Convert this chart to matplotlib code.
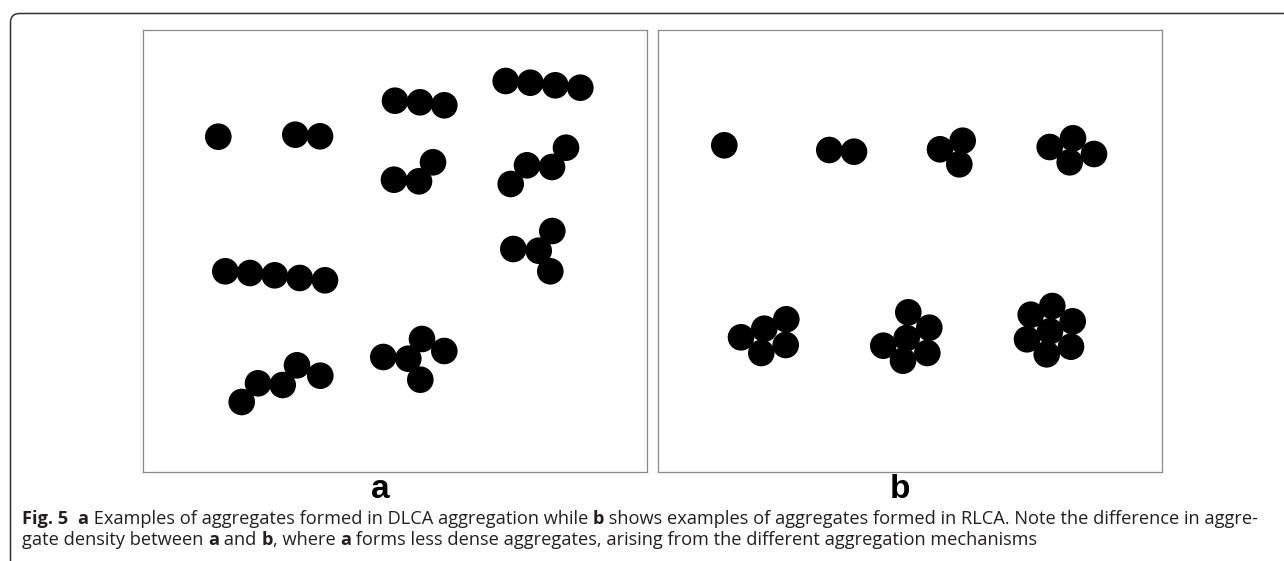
"""Fig. 5: DLCA vs RLCA aggregate examples."""
import matplotlib
matplotlib.use("Agg")
import matplotlib.pyplot as plt
from matplotlib.patches import Circle, FancyBboxPatch
from matplotlib.font_manager import FontProperties

# particle centres (figure pixel coordinates), one list per aggregate
dlca_aggregates = [
    [(218.3, 136.7)],
    [(295.3, 134.7), (320.0, 136.3)],
    [(395.0, 100.7), (420.0, 102.3), (444.3, 105.3)],
    [(505.7, 81.0), (530.3, 82.7), (555.3, 85.3), (580.3, 87.7)],
    [(394.0, 179.7), (419.0, 181.3), (433.0, 162.3)],
    [(510.7, 184.0), (527.0, 165.3), (552.0, 167.0), (566.0, 147.7)],
    [(513.3, 249.0), (538.7, 250.7), (552.3, 231.0), (550.3, 271.3)],
    [(225.3, 271.3), (250.0, 273.0), (274.7, 275.3), (299.7, 278.0), (325.0, 280.3)],
    [(241.7, 402.0), (258.0, 383.3), (282.7, 385.0), (297.0, 365.3), (320.3, 375.7)],
    [(383.3, 357.0), (408.3, 358.7), (422.0, 339.0), (444.3, 351.0), (420.3, 379.7)],
]

rlca_aggregates = [
    [(724.3, 145.3)],
    [(829.3, 150.0), (854.0, 151.7)],
    [(940.0, 149.3), (962.7, 140.7), (959.3, 164.3)],
    [(1049.7, 147.0), (1073.0, 138.3), (1094.0, 154.0), (1069.7, 162.3)],
    [(741.0, 337.3), (764.3, 328.7), (786.3, 319.3), (761.3, 353.0), (785.7, 345.0)],
    [(908.3, 312.3), (929.3, 327.7), (906.7, 338.0), (883.3, 345.7),
     (903.0, 360.7), (927.3, 353.0)],
    [(1052.3, 306.0), (1030.7, 314.7), (1072.7, 321.3), (1050.0, 331.3),
     (1027.0, 339.3), (1071.0, 346.7), (1046.7, 354.3)],
]

panel_labels = ["a", "b"]

caption_line1 = [
    ("Fig. 5", "bold"), ("  ", "normal"), ("a", "bold"),
    (" Examples of aggregates formed in DLCA aggregation while ", "normal"),
    ("b", "bold"),
    (" shows examples of aggregates formed in RLCA. Note the difference in aggre-", "normal"),
]
caption_line2 = [
    ("gate density between ", "normal"), ("a", "bold"), (" and ", "normal"),
    ("b", "bold"), (", where ", "normal"), ("a", "bold"),
    (" forms less dense aggregates, arising from the different aggregation mechanisms",
     "normal"),
]

W, H = 1284, 561
R = 13.3

fig = plt.figure(figsize=(W / 100, H / 100), dpi=100)
bg = fig.add_axes([0, 0, 1, 1])
bg.set_xlim(0, W)
bg.set_ylim(H, 0)
bg.axis("off")

# outer caption frame: only top and left edges are visible
bg.add_patch(FancyBboxPatch((10.5, 13.5), 1400, 700,
                            boxstyle="round,pad=0,rounding_size=9",
                            fill=False, edgecolor="#333333", linewidth=1.1))


def make_panel(x0, x1, y0, y1, aggregates):
    ax = fig.add_axes([x0 / W, 1 - y1 / H, (x1 - x0) / W, (y1 - y0) / H])
    ax.set_xlim(x0, x1)
    ax.set_ylim(y1, y0)
    ax.set_xticks([])
    ax.set_yticks([])
    for sp in ax.spines.values():
        sp.set_color("#8a8a8a")
        sp.set_linewidth(0.9)
    for agg in aggregates:
        for (cx, cy) in agg:
            ax.add_patch(Circle((cx, cy), R, facecolor="black", edgecolor="none"))
    return ax


make_panel(143, 647, 30, 472, dlca_aggregates)
make_panel(658, 1162, 30, 472, rlca_aggregates)

lab_font = FontProperties(family="Liberation Sans", weight="bold", size=24)
for lab, xc in zip(panel_labels, [380, 900]):
    bg.text(xc, 498, lab, fontproperties=lab_font, ha="center", va="baseline",
            color="black")

fig.canvas.draw()
renderer = fig.canvas.get_renderer()


def text_width(s, prop):
    w1, _, _ = renderer.get_text_width_height_descent(s + "|", prop, ismath=False)
    w2, _, _ = renderer.get_text_width_height_descent("|", prop, ismath=False)
    return w1 - w2


def line_width(parts, size):
    total = 0
    for s, wt in parts:
        total += text_width(s, FontProperties(family="Open Sans", weight=wt, size=size))
    return total


# fit the first caption line to the width seen in the figure
base = 10.0
size = base * 1243 / line_width(caption_line1, base)


def draw_line(parts, x, y):
    for s, wt in parts:
        prop = FontProperties(family="Open Sans", weight=wt, size=size)
        bg.text(x, y, s, fontproperties=prop, ha="left", va="baseline",
                color="#231f20")
        x += text_width(s, prop)


draw_line(caption_line1, 22, 524)
draw_line(caption_line2, 22, 545)

fig.savefig("out.png", dpi=100)
